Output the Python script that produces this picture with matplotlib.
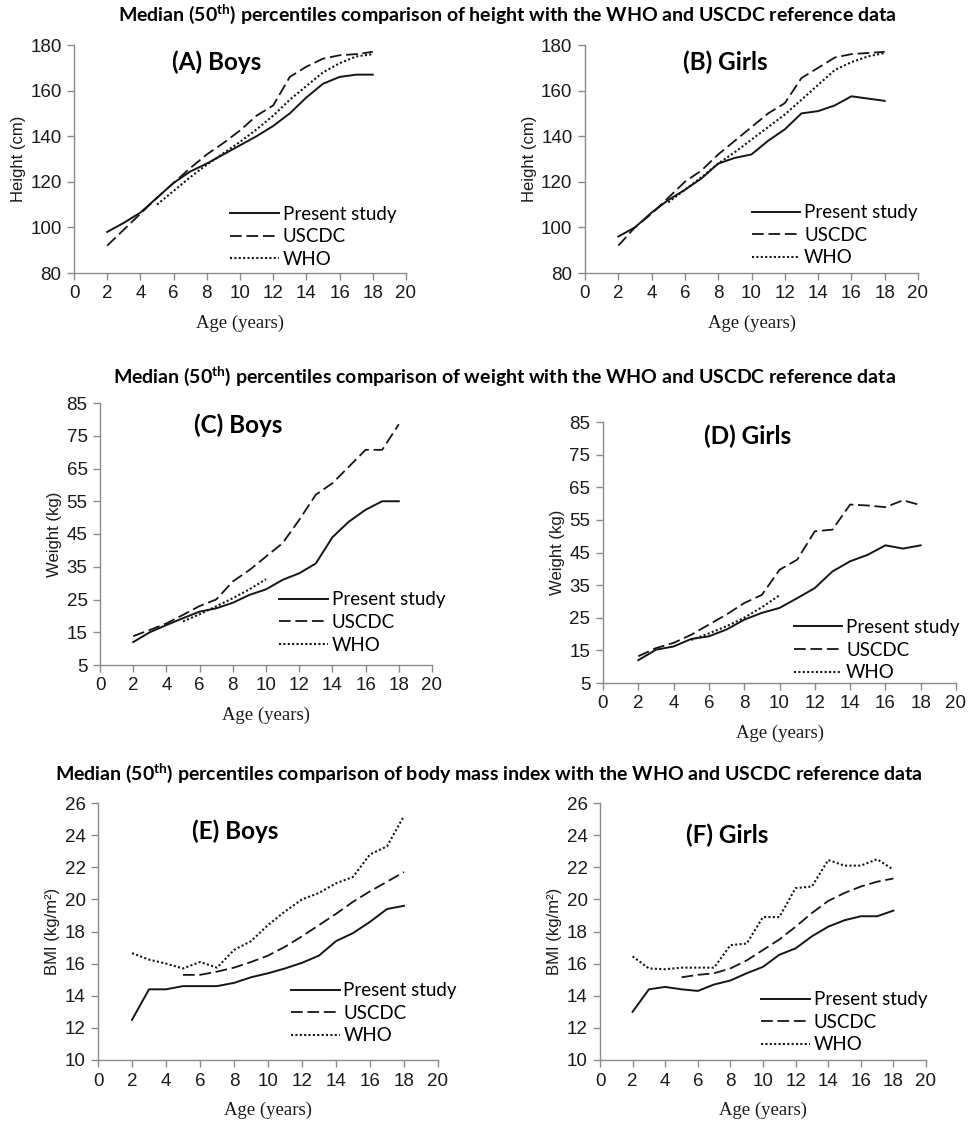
import matplotlib
matplotlib.use("Agg")
import matplotlib.pyplot as plt

# ── Data ──────────────────────────────────────────────────────────────────────
ages = [2, 3, 4, 5, 6, 7, 8, 9, 10, 11, 12, 13, 14, 15, 16, 17, 18]
ages_from5 = ages[3:]
ages_who_wt = [5, 6, 7, 8, 9, 10]

# Height (cm)
boys_ht_study = [98, 102, 106.5, 113, 119.5, 124.5, 128, 132, 136, 140, 144.5, 150, 157, 163, 166, 167, 167]
boys_ht_cdc = [92, 99, 106, 113, 119.5, 126, 132, 137, 142.5, 149, 153.5, 166, 170.5, 174, 175.5, 176, 177]
boys_ht_who = [110, 116, 122, 127.5, 132.5, 137.5, 143, 149, 156, 162, 168, 172, 175, 176]

girls_ht_study = [96, 100, 106.5, 112, 116.5, 121.5, 128, 130.5, 132, 138, 143, 150, 151, 153.5, 157.5, 156.5, 155.5]
girls_ht_cdc = [92, 100, 106, 113, 120, 125, 132, 138, 144, 150, 154.5, 165.5, 170, 174.5, 176, 176.5, 177]
girls_ht_who = [111, 116.5, 122, 128, 133, 138.5, 144, 149.5, 156, 162.5, 169, 172.5, 175, 176.5]

# Weight (kg)
boys_wt_study = [12, 15, 17.2, 19.3, 21.3, 22.3, 24, 26.4, 28.1, 31, 33, 36, 44, 48.8, 52.4, 55, 55]
boys_wt_cdc = [13.8, 15.7, 17.7, 20.3, 23, 25, 30.5, 34, 38.1, 42.2, 49.3, 57, 60.5, 65.6, 70.7, 70.7, 78.5]
boys_wt_who = [18.3, 20.5, 22.9, 25.4, 28.1, 31.2]

girls_wt_study = [12, 15.2, 16.2, 18.5, 19.3, 21.4, 24.4, 26.5, 28, 31, 34.1, 39.2, 42.3, 44.3, 47.2, 46.2, 47.2]
girls_wt_cdc = [13.2, 15.7, 17.3, 19.8, 22.9, 26, 29.5, 32, 39.7, 42.8, 51.5, 52, 59.7, 59.4, 58.9, 61, 59.5]
girls_wt_who = [18.2, 20.2, 22.4, 25, 28.2, 31.9]

# BMI (kg/m2)
boys_bmi_study = [12.5, 14.4, 14.4, 14.6, 14.6, 14.6, 14.8, 15.15, 15.4, 15.7, 16.05, 16.5, 17.4, 17.9, 18.6, 19.4, 19.6]
boys_bmi_cdc = [15.3, 15.3, 15.5, 15.75, 16.1, 16.5, 17.05, 17.7, 18.4, 19.1, 19.85, 20.5, 21.1, 21.7]
boys_bmi_who = [16.65, 16.25, 16.0, 15.7, 16.1, 15.75, 16.85, 17.4, 18.4, 19.25, 20.0, 20.4, 21.0, 21.4, 22.8, 23.3, 25.2]

girls_bmi_study = [13, 14.4, 14.55, 14.4, 14.3, 14.7, 14.95, 15.4, 15.8, 16.55, 16.95, 17.7, 18.3, 18.7, 18.95, 18.95, 19.3]
girls_bmi_cdc = [15.15, 15.3, 15.4, 15.7, 16.2, 16.85, 17.5, 18.3, 19.15, 19.9, 20.4, 20.8, 21.1, 21.3]
girls_bmi_who = [16.45, 15.7, 15.65, 15.75, 15.75, 15.75, 17.15, 17.25, 18.9, 18.9, 20.7, 20.8, 22.45, 22.1, 22.1, 22.5, 21.85]

# ── Style ─────────────────────────────────────────────────────────────────────
plt.rcParams["mathtext.fontset"] = "custom"
plt.rcParams["mathtext.rm"] = "Lato:bold"
plt.rcParams["mathtext.bf"] = "Lato:bold"

LINE_COLOR = "#151515"
SPINE_COLOR = "#8a8a8a"
TICK_FONT = "Liberation Sans"
TITLE_FONT = "Lato"

fig = plt.figure(figsize=(9.77, 11.24), dpi=100)


def draw_panel(rect, x_who, study, cdc, who, x_cdc, yticks, ylabel, label, label_xy, leg_xy):
    ax = fig.add_axes(rect)
    ax.plot(ages, study, color=LINE_COLOR, lw=1.4, label="Present study")
    ax.plot(x_cdc, cdc, color=LINE_COLOR, lw=1.3, dashes=(6.5, 2.6), label="USCDC")
    ax.plot(x_who, who, color=LINE_COLOR, lw=1.5, linestyle=(0, (1, 1.1)), label="WHO")

    ax.set_xlim(0, 20)
    ax.set_ylim(yticks[0], yticks[-1])
    ax.set_xticks(range(0, 21, 2))
    ax.set_yticks(yticks)
    for side in ["top", "right"]:
        ax.spines[side].set_visible(False)
    for side in ["left", "bottom"]:
        ax.spines[side].set_color(SPINE_COLOR)
        ax.spines[side].set_linewidth(1.0)
    ax.tick_params(direction="out", length=5, width=1.0, color=SPINE_COLOR,
                   labelsize=13.5, pad=4)
    for t in ax.get_xticklabels() + ax.get_yticklabels():
        t.set_fontfamily(TICK_FONT)
        t.set_color("#1a1a1a")

    ax.set_xlabel("Age (years)", fontfamily="Liberation Serif", fontsize=13.5,
                  color="#1a1a1a", labelpad=9)
    ax.set_ylabel(ylabel, fontfamily=TICK_FONT, fontsize=12, color="#1a1a1a", labelpad=3)

    ax.text(label_xy[0], label_xy[1], label, transform=ax.transAxes, ha="center",
            va="center", fontfamily=TITLE_FONT, fontweight="bold", fontsize=17.5)

    ax.legend(loc="upper left", bbox_to_anchor=leg_xy, frameon=False,
              prop={"family": "Lato", "size": 13.5}, handlelength=2.6,
              handletextpad=0.2, labelspacing=0.3, borderpad=0, borderaxespad=0)
    return ax


W, H = 977, 1124


def rect(x0, x1, y0, y1):
    # pixel box -> figure fraction
    return [x0 / W, 1 - y1 / H, (x1 - x0) / W, (y1 - y0) / H]


ht_ticks = [80, 100, 120, 140, 160, 180]
wt_ticks = [5, 15, 25, 35, 45, 55, 65, 75, 85]
bmi_ticks = [10, 12, 14, 16, 18, 20, 22, 24, 26]

draw_panel(rect(74, 406, 45, 273), ages_from5, boys_ht_study, boys_ht_cdc, boys_ht_who, ages,
           ht_ticks, "Height (cm)", "(A) Boys", (0.43, 0.925), (0.47, 0.295))
draw_panel(rect(585, 918, 45, 273), ages_from5, girls_ht_study, girls_ht_cdc, girls_ht_who, ages,
           ht_ticks, "Height (cm)", "(B) Girls", (0.42, 0.925), (0.50, 0.302))
draw_panel(rect(100, 432, 403, 665), ages_who_wt, boys_wt_study, boys_wt_cdc, boys_wt_who, ages,
           wt_ticks, "Weight (kg)", "(C) Boys", (0.416, 0.916), (0.54, 0.281))
draw_panel(rect(603, 956, 422, 683), ages_who_wt, girls_wt_study, girls_wt_cdc, girls_wt_who, ages,
           wt_ticks, "Weight (kg)", "(D) Girls", (0.41, 0.946), (0.54, 0.245))
draw_panel(rect(98, 438, 803, 1060), ages, boys_bmi_study, boys_bmi_cdc, boys_bmi_who, ages_from5,
           bmi_ticks, "BMI (kg/m²)", "(E) Boys", (0.403, 0.89), (0.567, 0.303))
draw_panel(rect(600, 926, 803, 1060), ages, girls_bmi_study, girls_bmi_cdc, girls_bmi_who, ages_from5,
           bmi_ticks, "BMI (kg/m²)", "(F) Girls", (0.39, 0.875), (0.494, 0.268))

# ── Row titles ────────────────────────────────────────────────────────────────
titles = [
    (507, 14, "height"),
    (504, 376, "weight"),
    (489, 773, "body mass index"),
]
for x, y, what in titles:
    fig.text(x / W, 1 - y / H,
             r"Median (50$^{\mathrm{th}}$) percentiles comparison of " + what
             + " with the WHO and USCDC reference data",
             ha="center", va="center", fontfamily=TITLE_FONT, fontweight="bold",
             fontsize=14)

fig.savefig("out.png", dpi=100)
